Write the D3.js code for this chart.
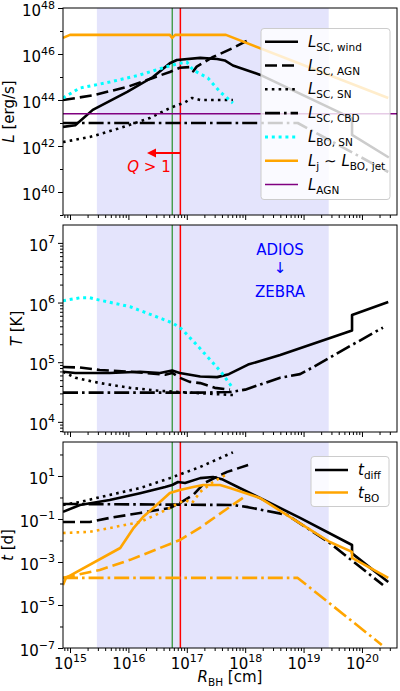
<!DOCTYPE html>
<html>
<head>
<meta charset="utf-8">
<script src="https://cdn.jsdelivr.net/npm/d3@7"></script>
<style>
  body { margin: 0; background: #fff; }
  svg text { font-family: "DejaVu Sans", sans-serif; }
</style>
</head>
<body>
<svg id="fig" width="400" height="691"></svg>
<script>
// all values are log10 pairs: [log10 R_BH (cm), log10 quantity]

// top panel: luminosity (erg/s)
var lumWind = [[14.88, 42.83], [15.09, 42.9], [15.39, 43.57], [15.98, 44.35], [16.42, 45.0], [16.71, 45.6],
  [16.83, 45.74], [17.23, 45.83], [17.52, 45.78], [17.65, 45.72], [17.79, 45.5], [18.25, 45.1],
  [19.83, 43.2], [19.83, 42.48], [20.46, 41.5]];
var lumScAgn = [[14.88, 44.0], [15.39, 44.2], [15.98, 44.57], [16.42, 44.96], [16.71, 45.22], [16.88, 45.4],
  [17.05, 45.43], [17.11, 45.25], [17.17, 45.45], [17.45, 45.87], [17.79, 46.26], [18.05, 46.6]];
var lumScSn = [[14.88, 42.17], [15.34, 42.39], [15.86, 42.78], [16.37, 43.22], [16.71, 43.65], [16.97, 43.9],
  [17.09, 44.09], [17.23, 44.0], [17.79, 44.0]];
var lumScCbd = [[14.88, 43.0], [18.9, 43.0], [20.45, 40.87]];
var lumBoSn = [[14.88, 44.09], [15.17, 44.52], [15.68, 44.78], [16.2, 45.09], [16.63, 45.43], [16.88, 45.6],
  [17.0, 45.65], [17.11, 45.3], [17.36, 44.96], [17.57, 44.35], [17.79, 43.87]];
var lumJet = [[14.88, 46.7], [15.0, 46.83], [16.71, 46.83], [16.75, 46.7], [16.8, 46.83], [17.67, 46.83],
  [20.45, 44.09]];
var lumAgn = [[14.88, 43.4], [20.6, 43.4]];

// middle panel: temperature (K)
var tempWind = [[14.88, 4.84], [15.09, 4.82], [15.68, 4.82], [16.2, 4.84], [16.54, 4.82], [16.75, 4.86],
  [16.88, 4.82], [17.23, 4.76], [17.52, 4.75], [17.72, 4.8], [18.05, 4.96], [18.6, 5.12],
  [19.83, 5.53], [19.83, 5.79], [20.45, 6.01]];
var tempScAgn = [[14.88, 4.92], [15.17, 4.91], [15.51, 4.87], [16.03, 4.84], [16.63, 4.79], [16.75, 4.82],
  [16.88, 4.74], [17.05, 4.67], [17.23, 4.65], [17.48, 4.57], [17.74, 4.54]];
var tempScSn = [[14.88, 4.84], [15.09, 4.74], [15.51, 4.65], [16.03, 4.57], [16.54, 4.52], [17.05, 4.49],
  [17.79, 4.45]];
var tempScCbd = [[14.88, 4.49], [17.23, 4.49], [17.74, 4.5], [18.0, 4.54], [18.6, 4.74], [18.94, 4.8],
  [19.15, 4.91], [19.74, 5.24], [20.36, 5.58]];
var tempBoSn = [[14.88, 6.03], [15.17, 6.08], [15.34, 6.08], [15.51, 6.04], [16.03, 5.93], [16.54, 5.74],
  [16.75, 5.66], [16.88, 5.58], [16.93, 5.54], [17.17, 5.29], [17.43, 5.01], [17.6, 4.82], [17.77, 4.59]];

// bottom panel: time (d)
var diffWind = [[14.88, -0.67], [15.17, -0.35], [15.68, -0.12], [16.2, 0.2], [16.63, 0.49], [16.75, 0.58],
  [16.85, 0.72], [16.97, 0.67], [17.23, 0.9], [17.45, 0.95], [17.6, 0.85], [18.08, 0.21], [18.94, -0.95],
  [19.83, -2.21], [19.83, -2.6], [20.45, -3.93]];
var diffScAgn = [[14.88, -1.14], [15.34, -1.14], [15.68, -0.95], [16.2, -0.72], [16.71, -0.49], [16.88, -0.26],
  [17.11, 0.12], [17.3, 0.67], [17.69, 1.19], [18.05, 1.51]];
var diffScSn = [[14.88, -0.35], [15.17, -0.21], [15.68, 0.12], [16.2, 0.44], [16.71, 0.9], [17.23, 1.42],
  [17.79, 2.1]];
var diffScCbd = [[14.88, -0.3], [17.79, -0.35], [18.05, -0.45], [18.72, -0.81], [19.45, -2.12], [20.36, -4.07]];
var boJet = [[14.88, -4.07], [14.93, -3.74], [15.86, -2.35], [16.08, -1.45], [16.25, -0.91], [16.54, -0.21],
  [16.71, 0.21], [16.88, 0.35], [17.11, 0.49], [17.28, 0.58], [17.57, 0.58], [17.74, 0.44], [18.25, -0.02],
  [18.94, -1.2], [19.45, -2.07], [19.83, -2.53], [19.83, -2.81], [20.45, -3.74]];
var boSn = [[14.88, -1.65], [15.34, -1.6], [15.68, -1.42], [16.2, -1.14], [16.54, -0.72], [16.8, -0.35],
  [16.97, -0.12], [17.09, -0.26], [17.23, 0.26], [17.45, 0.72], [17.69, 1.09]];
var boAgn = [[14.88, -3.74], [15.51, -3.37], [16.03, -2.9], [16.54, -2.35], [16.88, -1.98], [17.23, -1.4],
  [17.57, -0.75], [17.96, -0.02]];
var boCbd = [[14.88, -3.74], [18.9, -3.74], [20.34, -6.86]];

// shared marks
var shadeSpan = [15.46, 19.43];
var lineGreen = 16.75;
var lineRed = 16.89;

var xTicks = [15, 16, 17, 18, 19, 20];
var lumTicks = [40, 42, 44, 46, 48];
var tempTicks = [4, 5, 6, 7];
var timeTicks = [-7, -5, -3, -1, 1];

var SOLID = null, DASHED = '12,5', DOTTED = '2.6,4.2', DASHDOT = '15,4,2.6,4';
var LW = 2.6;

var svg = d3.select('#fig');
var left = 63, right = 397;
var x = d3.scaleLog().domain([Math.pow(10, 14.88), Math.pow(10, 20.6)]).range([left, right]);

function pow10(v) { return Math.pow(10, v); }

function rich(text, parts, subSize) {
  var cur = 0;
  parts.forEach(function(p) {
    var off = p.sub ? 4 : (p.sup ? -9 : 0);
    var ts = text.append('tspan').attr('dy', off - cur).text(p.t);
    cur = off;
    if (p.it) ts.attr('font-style', 'italic');
    if (p.sub || p.sup) ts.attr('font-size', (subSize || 10.5) + 'px');
  });
}

function expLabel(t, e) {
  t.text(null);
  t.append('tspan').text('10');
  t.append('tspan').attr('dy', -7.5).attr('font-size', '11px').text(e < 0 ? '\u2212' + (-e) : '' + e);
}

function minorX() {
  var out = [];
  for (var n = 14; n <= 20; n++) {
    for (var k = 2; k <= 9; k++) {
      var v = k * Math.pow(10, n);
      if (v >= x.domain()[0] && v <= x.domain()[1]) out.push(v);
    }
  }
  return out;
}

function makePanel(id, top, bottom, yLo, yHi) {
  var y = d3.scaleLog().domain([pow10(yLo), pow10(yHi)]).range([bottom, top]);
  var g = svg.append('g');
  svg.append('clipPath').attr('id', 'clip' + id)
    .append('rect').attr('x', left).attr('y', top).attr('width', right - left).attr('height', bottom - top);
  g.append('rect')
    .attr('x', x(pow10(shadeSpan[0]))).attr('y', top)
    .attr('width', x(pow10(shadeSpan[1])) - x(pow10(shadeSpan[0])))
    .attr('height', bottom - top)
    .attr('fill', '#e4e4fc');
  g.append('line').attr('x1', x(pow10(lineGreen))).attr('x2', x(pow10(lineGreen)))
    .attr('y1', top).attr('y2', bottom).attr('stroke', 'green').attr('stroke-width', 1);
  g.append('line').attr('x1', x(pow10(lineRed))).attr('x2', x(pow10(lineRed)))
    .attr('y1', top).attr('y2', bottom).attr('stroke', 'red').attr('stroke-width', 1.5);
  var plot = g.append('g').attr('clip-path', 'url(#clip' + id + ')');
  return { g: g, plot: plot, y: y, top: top, bottom: bottom };
}

function drawSeries(panel, list) {
  var gen = d3.line().x(function(d) { return x(pow10(d[0])); }).y(function(d) { return panel.y(pow10(d[1])); });
  list.forEach(function(s) {
    panel.plot.append('path')
      .attr('d', gen(s.data))
      .attr('fill', 'none')
      .attr('stroke', s.color)
      .attr('stroke-width', s.width || LW)
      .attr('stroke-dasharray', s.dash)
      .attr('stroke-linejoin', 'round');
  });
}

function drawAxes(panel, yMajor, yMinor, showX) {
  var g = panel.g;
  var ax = g.append('g').attr('transform', 'translate(0,' + panel.bottom + ')');
  ax.call(d3.axisBottom(x).tickValues(minorX()).tickSize(3).tickSizeOuter(0).tickFormat(''));
  ax.select('.domain').remove();
  var axM = g.append('g').attr('transform', 'translate(0,' + panel.bottom + ')');
  axM.call(d3.axisBottom(x).tickValues(xTicks.map(pow10)).tickSize(5).tickSizeOuter(0).tickFormat(''));
  axM.attr('font-size', 15).attr('font-family', null);
  axM.select('.domain').remove();
  if (showX) {
    axM.selectAll('.tick text').attr('y', 21).attr('dy', 0)
      .each(function(d) { expLabel(d3.select(this), Math.round(Math.log10(d))); });
  } else {
    axM.selectAll('.tick text').remove();
  }

  var ay = g.append('g').attr('transform', 'translate(' + left + ',0)');
  ay.call(d3.axisLeft(panel.y).tickValues(yMinor).tickSize(3).tickSizeOuter(0).tickFormat(''));
  ay.select('.domain').remove();
  ay.selectAll('.tick text').remove();
  var ayM = g.append('g').attr('transform', 'translate(' + left + ',0)');
  ayM.call(d3.axisLeft(panel.y).tickValues(yMajor).tickSize(5).tickSizeOuter(0).tickPadding(3).tickFormat(''));
  ayM.attr('font-size', 15).attr('font-family', null);
  ayM.select('.domain').remove();
  ayM.selectAll('.tick text').attr('dy', 7.5)
    .each(function(d) { expLabel(d3.select(this), Math.round(Math.log10(d))); });

  g.append('rect').attr('x', left).attr('y', panel.top)
    .attr('width', right - left).attr('height', panel.bottom - panel.top)
    .attr('fill', 'none').attr('stroke', 'black').attr('stroke-width', 1);
}

function yLabel(panel, xPos, parts) {
  var t = svg.append('text')
    .attr('transform', 'translate(' + xPos + ',' + ((panel.top + panel.bottom) / 2) + ') rotate(-90)')
    .attr('text-anchor', 'middle').attr('font-size', 15);
  rich(t, parts);
}

function legend(panel, box, rows, lineX, textX) {
  var g = panel.g.append('g');
  g.append('rect').attr('x', box[0]).attr('y', box[1]).attr('width', box[2]).attr('height', box[3])
    .attr('rx', 3).attr('fill', 'white').attr('fill-opacity', 0.8)
    .attr('stroke', '#cccccc').attr('stroke-width', 1);
  rows.forEach(function(r) {
    g.append('line').attr('x1', lineX[0]).attr('x2', lineX[1]).attr('y1', r.y).attr('y2', r.y)
      .attr('stroke', r.color).attr('stroke-width', r.width || LW).attr('stroke-dasharray', r.dash);
    var t = g.append('text').attr('x', textX).attr('y', r.y + 5).attr('font-size', 15);
    rich(t, r.label);
  });
}

// ---------- top panel ----------
var p1 = makePanel(1, 8, 215, 39, 48);
var lumList = [
  { data: lumWind, color: 'black', dash: SOLID, label: [{ t: 'L', it: true }, { t: 'SC, wind', sub: true }] },
  { data: lumScAgn, color: 'black', dash: DASHED, label: [{ t: 'L', it: true }, { t: 'SC, AGN', sub: true }] },
  { data: lumScSn, color: 'black', dash: DOTTED, label: [{ t: 'L', it: true }, { t: 'SC, SN', sub: true }] },
  { data: lumScCbd, color: 'black', dash: DASHDOT, label: [{ t: 'L', it: true }, { t: 'SC, CBD', sub: true }] },
  { data: lumBoSn, color: '#00ffff', dash: '3,3.8', width: 3, label: [{ t: 'L', it: true }, { t: 'BO, SN', sub: true }] },
  { data: lumJet, color: '#ffa500', dash: SOLID, label: [{ t: 'L', it: true }, { t: 'j', sub: true }, { t: ' \u223c ' }, { t: 'L', it: true }, { t: 'BO, jet', sub: true }] },
  { data: lumAgn, color: 'purple', dash: SOLID, width: 1.6, label: [{ t: 'L', it: true }, { t: 'AGN', sub: true }] }
];
drawSeries(p1, lumList);
drawAxes(p1, lumTicks.map(pow10), [39, 41, 43, 45, 47].map(pow10), false);
yLabel(p1, 14, [{ t: 'L', it: true }, { t: ' [erg/s]' }]);

// Q > 1 arrow
var arrowY = 153;
var redX = x(pow10(lineRed));
p1.g.append('line').attr('x1', redX).attr('x2', 155).attr('y1', arrowY).attr('y2', arrowY)
  .attr('stroke', 'red').attr('stroke-width', 2);
p1.g.append('path').attr('d', 'M147,' + arrowY + ' L156,' + (arrowY - 4.5) + ' L156,' + (arrowY + 4.5) + ' Z')
  .attr('fill', 'red');
var q = p1.g.append('text').attr('x', 149).attr('y', 172).attr('text-anchor', 'middle')
  .attr('font-size', 15).attr('fill', 'red');
rich(q, [{ t: 'Q', it: true }, { t: ' > 1' }]);

legend(p1, [261, 28.5, 129, 171], lumList.map(function(s, i) {
  return { y: 41.7 + i * 23.8, color: s.color, dash: s.dash, width: s.width, label: s.label };
}), [265, 298], 308);

// ---------- middle panel ----------
var p2 = makePanel(2, 225, 432, 3.83, 7.3);
drawSeries(p2, [
  { data: tempWind, color: 'black', dash: SOLID },
  { data: tempScAgn, color: 'black', dash: DASHED },
  { data: tempScSn, color: 'black', dash: DOTTED },
  { data: tempScCbd, color: 'black', dash: DASHDOT },
  { data: tempBoSn, color: '#00ffff', dash: '3,3.8', width: 3 }
]);
var tMinor = [];
[3, 4, 5, 6, 7].forEach(function(n) {
  for (var k = 2; k <= 9; k++) {
    var v = Math.log10(k) + n;
    if (v > 3.83 && v < 7.3) tMinor.push(pow10(v));
  }
});
drawAxes(p2, tempTicks.map(pow10), tMinor, false);
yLabel(p2, 22, [{ t: 'T', it: true }, { t: ' [K]' }]);
['ADIOS', '\u2193', 'ZEBRA'].forEach(function(s, i) {
  p2.g.append('text').attr('x', 280).attr('y', [255, 273, 297][i]).attr('text-anchor', 'middle')
    .attr('font-size', 15).attr('fill', '#0000ff').text(s);
});

// ---------- bottom panel ----------
var p3 = makePanel(3, 442, 648, -7, 2.58);
drawSeries(p3, [
  { data: diffWind, color: 'black', dash: SOLID },
  { data: diffScAgn, color: 'black', dash: DASHED },
  { data: diffScSn, color: 'black', dash: DOTTED },
  { data: diffScCbd, color: 'black', dash: DASHDOT },
  { data: boJet, color: '#ffa500', dash: SOLID },
  { data: boSn, color: '#ffa500', dash: DOTTED },
  { data: boAgn, color: '#ffa500', dash: DASHED },
  { data: boCbd, color: '#ffa500', dash: DASHDOT }
]);
drawAxes(p3, timeTicks.map(pow10), [-6, -4, -2, 0, 2].map(pow10), true);
yLabel(p3, 13, [{ t: 't', it: true }, { t: ' [d]' }]);
legend(p3, [311, 456.5, 78, 50], [
  { y: 470, color: 'black', dash: SOLID, label: [{ t: 't', it: true }, { t: 'diff', sub: true }] },
  { y: 492.5, color: '#ffa500', dash: SOLID, label: [{ t: 't', it: true }, { t: 'BO', sub: true }] }
], [315, 348], 358);

var xl = svg.append('text').attr('x', (left + right) / 2).attr('y', 682)
  .attr('text-anchor', 'middle').attr('font-size', 15);
rich(xl, [{ t: 'R', it: true }, { t: 'BH', sub: true }, { t: ' [cm]' }]);
</script>
</body>
</html>
